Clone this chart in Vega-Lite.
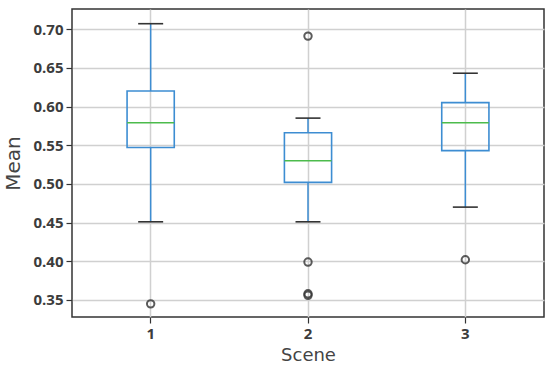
{
  "$schema": "https://vega.github.io/schema/vega-lite/v6.json",
  "width": 472,
  "height": 308,
  "autosize": {"type": "none"},
  "padding": {"left": 72, "top": 9, "right": 6, "bottom": 54},
  "background": "white",
  "config": {
    "view": {"stroke": "#333333", "strokeWidth": 1.5},
    "axis": {
      "domain": false,
      "tickColor": "#333333",
      "tickSize": 6,
      "tickWidth": 1.2,
      "labelFont": "Open Sans",
      "labelFontWeight": "bold",
      "labelFontSize": 15,
      "labelColor": "#3c3c3c",
      "labelPadding": 3,
      "titleFont": "DejaVu Sans",
      "titleFontWeight": "normal",
      "titleFontSize": 18,
      "titleColor": "#444444",
      "gridColor": "#d0d0d0",
      "gridWidth": 1.5
    }
  },
  "datasets": {
    "stats": [
      {"scene": 1, "lo": 0.451, "q1": 0.547, "med": 0.579, "q3": 0.620, "hi": 0.707},
      {"scene": 2, "lo": 0.451, "q1": 0.502, "med": 0.530, "q3": 0.566, "hi": 0.585},
      {"scene": 3, "lo": 0.470, "q1": 0.543, "med": 0.579, "q3": 0.605, "hi": 0.643}
    ],
    "outliers": [
      {"scene": 1, "value": 0.345},
      {"scene": 2, "value": 0.691},
      {"scene": 2, "value": 0.399},
      {"scene": 2, "value": 0.358},
      {"scene": 2, "value": 0.356},
      {"scene": 3, "value": 0.402}
    ]
  },
  "encoding": {
    "x": {
      "field": "scene",
      "type": "ordinal",
      "title": "Scene",
      "scale": {"paddingInner": 0, "paddingOuter": 0},
      "axis": {"labelAngle": 0, "grid": true, "bandPosition": 0.5, "titlePadding": 5}
    }
  },
  "layer": [
    {
      "data": {"name": "stats"},
      "mark": {"type": "rule", "color": "#3d8dd2", "strokeWidth": 1.5},
      "encoding": {
        "y": {"field": "lo", "type": "quantitative", "title": "Mean",
          "scale": {"domain": [0.328, 0.726], "nice": false, "zero": false},
          "axis": {"values": [0.35, 0.4, 0.45, 0.5, 0.55, 0.6, 0.65, 0.7], "format": ".2f", "grid": true, "titlePadding": 9, "titleFontSize": 20}},
        "y2": {"field": "q1"}
      }
    },
    {
      "data": {"name": "stats"},
      "mark": {"type": "rule", "color": "#3d8dd2", "strokeWidth": 1.5},
      "encoding": {
        "y": {"field": "q3", "type": "quantitative", "title": "Mean"},
        "y2": {"field": "hi"}
      }
    },
    {
      "data": {"name": "stats"},
      "mark": {"type": "bar", "width": {"band": 0.3}, "fill": null, "fillOpacity": 0, "stroke": "#3d8dd2", "strokeWidth": 1.6},
      "encoding": {
        "y": {"field": "q1", "type": "quantitative", "title": "Mean"},
        "y2": {"field": "q3"}
      }
    },
    {
      "data": {"name": "stats"},
      "mark": {"type": "tick", "color": "#4cbb4c", "size": 47, "thickness": 1.5, "opacity": 1},
      "encoding": {
        "y": {"field": "med", "type": "quantitative", "title": "Mean"}
      }
    },
    {
      "data": {"name": "stats"},
      "mark": {"type": "tick", "color": "#333333", "size": 25, "thickness": 1.6, "opacity": 1},
      "encoding": {
        "y": {"field": "lo", "type": "quantitative", "title": "Mean"}
      }
    },
    {
      "data": {"name": "stats"},
      "mark": {"type": "tick", "color": "#333333", "size": 25, "thickness": 1.6, "opacity": 1},
      "encoding": {
        "y": {"field": "hi", "type": "quantitative", "title": "Mean"}
      }
    },
    {
      "data": {"name": "outliers"},
      "mark": {"type": "point", "filled": false, "size": 55, "stroke": "#333333", "strokeWidth": 2, "opacity": 0.8},
      "encoding": {
        "y": {"field": "value", "type": "quantitative", "title": "Mean"}
      }
    }
  ]
}
